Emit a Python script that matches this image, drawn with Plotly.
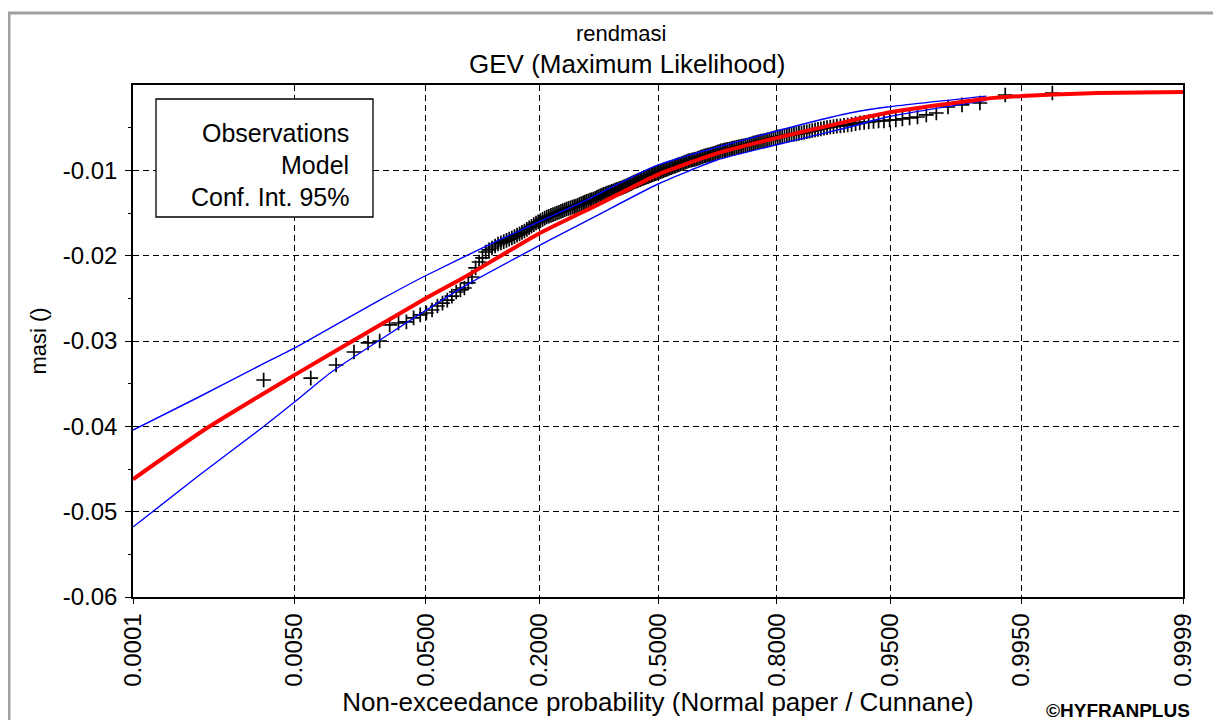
import plotly.graph_objects as go
from statistics import NormalDist

_nd = NormalDist()


def zq(p):
    return _nd.inv_cdf(p)


# ---------------- data ----------------
tick_probs = [0.0001, 0.005, 0.05, 0.2, 0.5, 0.8, 0.95, 0.995, 0.9999]
tick_text = ["0.0001", "0.0050", "0.0500", "0.2000", "0.5000",
             "0.8000", "0.9500", "0.9950", "0.9999"]

y_tick_vals = [-0.06, -0.05, -0.04, -0.03, -0.02, -0.01]
y_tick_text = ["-0.06", "-0.05", "-0.04", "-0.03", "-0.02", "-0.01"]

# observed values, sorted ascending (plotted at Cunnane positions)
obs_values = [
    -0.03457, -0.03434, -0.03281, -0.03129, -0.03023, -0.03000, -0.02812, -0.02789, -0.02777, -0.02730,
    -0.02695, -0.02672, -0.02637, -0.02590, -0.02555, -0.02520, -0.02473, -0.02426, -0.02402, -0.02379,
    -0.02320, -0.02250, -0.02144, -0.02074, -0.02027, -0.01957, -0.01933, -0.01910, -0.01887, -0.01863,
    -0.01849, -0.01835, -0.01821, -0.01807, -0.01793, -0.01777, -0.01760, -0.01744, -0.01727, -0.01711,
    -0.01692, -0.01673, -0.01655, -0.01636, -0.01617, -0.01603, -0.01589, -0.01575, -0.01561, -0.01547,
    -0.01538, -0.01528, -0.01519, -0.01509, -0.01500, -0.01491, -0.01481, -0.01472, -0.01462, -0.01453,
    -0.01446, -0.01439, -0.01432, -0.01425, -0.01418, -0.01409, -0.01399, -0.01390, -0.01380, -0.01371,
    -0.01364, -0.01357, -0.01350, -0.01343, -0.01336, -0.01327, -0.01317, -0.01308, -0.01298, -0.01289,
    -0.01282, -0.01275, -0.01268, -0.01261, -0.01254, -0.01247, -0.01240, -0.01233, -0.01226, -0.01219,
    -0.01212, -0.01205, -0.01197, -0.01190, -0.01183, -0.01174, -0.01165, -0.01155, -0.01146, -0.01137,
    -0.01130, -0.01123, -0.01115, -0.01108, -0.01101, -0.01094, -0.01087, -0.01080, -0.01073, -0.01066,
    -0.01059, -0.01052, -0.01045, -0.01038, -0.01031, -0.01024, -0.01017, -0.01010, -0.01003, -0.00996,
    -0.00989, -0.00982, -0.00975, -0.00968, -0.00961, -0.00954, -0.00947, -0.00940, -0.00933, -0.00926,
    -0.00919, -0.00912, -0.00904, -0.00897, -0.00890, -0.00885, -0.00881, -0.00876, -0.00872, -0.00867,
    -0.00860, -0.00853, -0.00846, -0.00839, -0.00832, -0.00827, -0.00822, -0.00818, -0.00813, -0.00808,
    -0.00801, -0.00794, -0.00787, -0.00780, -0.00773, -0.00768, -0.00764, -0.00759, -0.00755, -0.00750,
    -0.00745, -0.00740, -0.00736, -0.00731, -0.00726, -0.00721, -0.00717, -0.00712, -0.00708, -0.00703,
    -0.00696, -0.00689, -0.00682, -0.00675, -0.00668, -0.00663, -0.00658, -0.00654, -0.00649, -0.00644,
    -0.00637, -0.00630, -0.00623, -0.00616, -0.00609, -0.00604, -0.00600, -0.00595, -0.00591, -0.00586,
    -0.00581, -0.00576, -0.00572, -0.00567, -0.00562, -0.00555, -0.00548, -0.00541, -0.00534, -0.00527,
    -0.00520, -0.00513, -0.00506, -0.00499, -0.00492, -0.00487, -0.00483, -0.00478, -0.00474, -0.00469,
    -0.00461, -0.00453, -0.00445, -0.00439, -0.00433, -0.00428, -0.00422, -0.00422, -0.00410, -0.00410,
    -0.00398, -0.00386, -0.00375, -0.00351, -0.00328, -0.00258, -0.00234, -0.00211, -0.00117, -0.00094,
]

model_probs = [0.0001, 0.0007, 0.005, 0.0207, 0.05, 0.084, 0.2, 0.3405, 0.5,
               0.67, 0.8, 0.913, 0.95, 0.99, 0.995, 0.99745, 0.99907, 0.9999]
model_values = [-0.0462, -0.0402, -0.0340, -0.0288, -0.0250, -0.0226, -0.0174, -0.0139, -0.0105,
                -0.0079, -0.0062, -0.0042, -0.0032, -0.0016, -0.0013, -0.0011, -0.00095, -0.00082]

ci_upper_probs = [0.0001, 0.000545, 0.00257, 0.0056, 0.0245, 0.048, 0.121, 0.2905,
                  0.5, 0.8, 0.913, 0.9476, 0.99]
ci_upper_values = [-0.04043, -0.03668, -0.03269, -0.03047, -0.02519, -0.0225, -0.01851, -0.01383,
                   -0.00937, -0.00539, -0.00328, -0.00258, -0.0013]

ci_lower_probs = [0.0001, 0.000545, 0.00257, 0.00528, 0.0101, 0.0257, 0.0915, 0.222,
                  0.34, 0.5, 0.662, 0.8, 0.913, 0.9476, 0.99]
ci_lower_values = [-0.0518, -0.04594, -0.04008, -0.03691, -0.03375, -0.02965, -0.0232, -0.01816,
                   -0.01512, -0.0116, -0.00879, -0.0070, -0.00492, -0.00375, -0.0018]

# ---------------- figure ----------------
n = len(obs_values)
obs_probs = [(i - 0.4) / (n + 0.2) for i in range(1, n + 1)]

FONT = "Arial, 'Liberation Sans', sans-serif"
OFF = 8                      # page body margin of the html output
W, H = 1221 - OFF, 720 - OFF
L, T = 133 - OFF, 85 - OFF
R = W - (1183 - OFF)
B = H - (597 - OFF)
PW, PH = W - L - R, H - T - B


def px(x):
    """page pixel x -> paper coordinate"""
    return (x - OFF - L) / PW


def py(y):
    """page pixel y -> paper coordinate"""
    return (H - B - (y - OFF)) / PH


fig = go.Figure()

fig.add_trace(go.Scatter(
    x=[zq(p) for p in obs_probs], y=obs_values, mode="markers",
    marker=dict(symbol="cross-thin", size=10.5, color="black",
                line=dict(width=1.7, color="black")),
    showlegend=False, hoverinfo="skip"))

for pr, vals in ((ci_upper_probs, ci_upper_values), (ci_lower_probs, ci_lower_values)):
    fig.add_trace(go.Scatter(
        x=[zq(p) for p in pr], y=vals, mode="lines",
        line=dict(color="#0000ff", width=1.4, shape="spline", smoothing=0.5),
        showlegend=False, hoverinfo="skip"))

fig.add_trace(go.Scatter(
    x=[zq(p) for p in model_probs], y=model_values, mode="lines",
    line=dict(color="#ff0000", width=4, shape="spline", smoothing=0.6),
    showlegend=False, hoverinfo="skip"))

eps = 1e-9
fig.update_xaxes(
    range=[zq(tick_probs[0]) - eps, zq(tick_probs[-1]) + eps],
    tickmode="array", tickvals=[zq(p) for p in tick_probs], ticktext=tick_text,
    tickangle=-90, tickfont=dict(family=FONT, size=24, color="black"),
    showgrid=True, gridcolor="black", gridwidth=1, griddash="6px,4px",
    showline=True, linecolor="black", linewidth=1.5, mirror=True,
    ticks="outside", ticklen=5, tickcolor="black", zeroline=False,
    title=dict(text="Non-exceedance probability (Normal paper / Cunnane)",
               font=dict(family=FONT, size=26, color="black"), standoff=3),
)
fig.update_yaxes(
    range=[-0.06, 0], tickmode="array", tickvals=y_tick_vals, ticktext=y_tick_text,
    tickfont=dict(family=FONT, size=24, color="black"), ticklabelstandoff=3,
    showgrid=True, gridcolor="black", gridwidth=1, griddash="6px,4px",
    showline=True, linecolor="black", linewidth=1.5, mirror=True,
    ticks="outside", ticklen=6, tickcolor="black", zeroline=False,
    minor=dict(tickmode="array",
               tickvals=[-0.055, -0.045, -0.035, -0.025, -0.015, -0.005],
               ticks="outside", ticklen=3, tickcolor="black", showgrid=False),
    title=dict(text="masi ()", font=dict(family=FONT, size=22, color="black"), standoff=10),
)

shapes = [
    # outer window frame
    dict(type="rect", xref="paper", yref="paper",
         x0=px(9), x1=px(1240), y0=py(740), y1=py(13),
         line=dict(color="#a0a0a0", width=3), fillcolor="rgba(0,0,0,0)", layer="below"),
    # legend box
    dict(type="rect", xref="paper", yref="paper",
         x0=px(156), x1=px(373), y0=py(217), y1=py(99),
         line=dict(color="black", width=1.3), fillcolor="white", layer="above"),
]

annotations = [
    dict(text="rendmasi", x=px(621), y=py(33), xref="paper", yref="paper",
         showarrow=False, font=dict(family=FONT, size=22, color="black"),
         xanchor="center", yanchor="middle"),
    dict(text="GEV (Maximum Likelihood)", x=px(627), y=py(64), xref="paper", yref="paper",
         showarrow=False, font=dict(family=FONT, size=26, color="black"),
         xanchor="center", yanchor="middle"),
    dict(text="<b>©HYFRANPLUS</b>", x=px(1192), y=py(710), xref="paper", yref="paper",
         showarrow=False, font=dict(family=FONT, size=19, color="black"),
         xanchor="right", yanchor="middle"),
]
for txt, yy in (("Observations", 133), ("Model", 165), ("Conf. Int. 95%", 197)):
    annotations.append(dict(text=txt, x=px(351), y=py(yy), xref="paper", yref="paper",
                            showarrow=False, font=dict(family=FONT, size=25, color="black"),
                            xanchor="right", yanchor="middle"))

fig.update_layout(
    width=W, height=H,
    margin=dict(l=L, r=R, t=T, b=B, pad=0),
    paper_bgcolor="white", plot_bgcolor="white",
    shapes=shapes, annotations=annotations,
    showlegend=False,
)

fig.write_html("out.html")
